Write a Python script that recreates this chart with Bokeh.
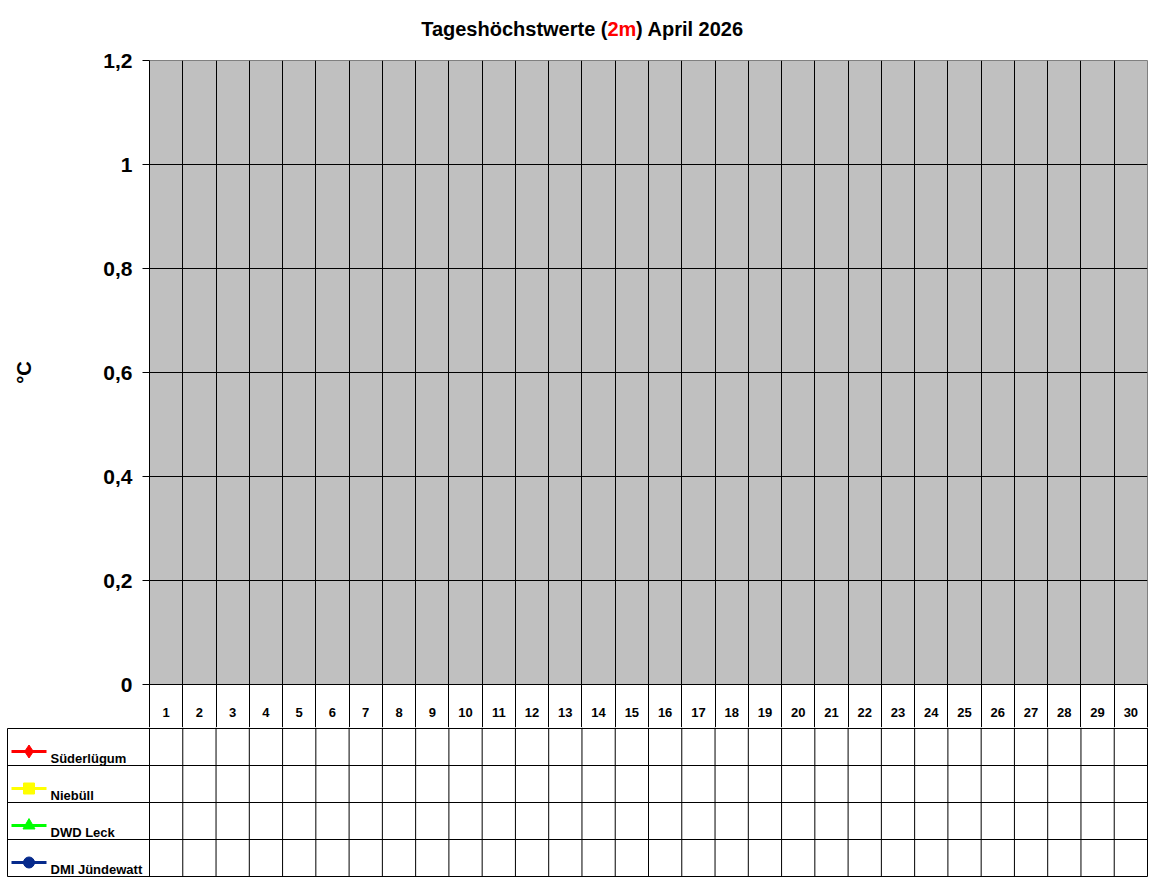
from bokeh.plotting import figure
from bokeh.models import Range1d, FixedTicker, ColumnDataSource
from bokeh.core.properties import value
from bokeh.embed import file_html
from bokeh.resources import INLINE

FONT = "Liberation Sans"

# --- data -------------------------------------------------------------
title_parts = ["Tageshöchstwerte (", "2m", ") April 2026"]
days = list(range(1, 31))
day_labels = [str(d) for d in days]
y_ticks = [0, 0.2, 0.4, 0.6, 0.8, 1.0, 1.2]
y_tick_labels = ["0", "0,2", "0,4", "0,6", "0,8", "1", "1,2"]

stations = ["Süderlügum", "Niebüll", "DWD Leck", "DMI Jündewatt"]
station_colors = ["#FF0000", "#FFFF00", "#00FF00", "#062A8C"]
station_markers = ["diamond", "square", "triangle", "circle"]

# no values reported yet for April 2026
suederluegum = [None] * 30
niebuell = [None] * 30
dwd_leck = [None] * 30
dmi_juendewatt = [None] * 30
series = [suederluegum, niebuell, dwd_leck, dmi_juendewatt]

# --- layout numbers (page pixels) -------------------------------------
W = 1150
TITLE_H = 44
FRAME_T, FRAME_B = 60, 684
FRAME_L, FRAME_R = 149, 1147
HEAD = 43                        # header row with the day numbers, under the chart
TOP_H = FRAME_B + HEAD - TITLE_H
BOT_TOP = FRAME_B + HEAD
BOT_H = 880 - BOT_TOP
upd = (FRAME_R - FRAME_L) / 30.0  # pixels per day


def px_to_day(px):
    return 0.5 + (px - FRAME_L) / upd


# --- title ------------------------------------------------------------
tt = figure(width=W, height=TITLE_H, output_backend="svg", toolbar_location=None,
            x_range=Range1d(0, W), y_range=Range1d(TITLE_H, 0), min_border=0,
            x_axis_location=None, y_axis_location=None)
tt.grid.visible = False
tt.outline_line_color = None
x2m = 607
w2m = 28.5
for txt, x, align, col in [(title_parts[0], x2m, "right", "black"),
                           (title_parts[1], x2m, "left", "red"),
                           (title_parts[2], x2m + w2m, "left", "black")]:
    tt.text(x=[x], y=[28], text=[txt], text_align=align, text_baseline="alphabetic",
            text_font=value(FONT), text_font_style="bold", text_font_size="20px",
            text_color=col)

# --- chart ------------------------------------------------------------
p = figure(width=W, height=TOP_H, output_backend="svg", toolbar_location=None,
           x_range=Range1d(0.5, 30.5), y_range=Range1d(0, 1.2),
           min_border_left=FRAME_L, min_border_right=W - FRAME_R,
           min_border_top=FRAME_T - TITLE_H, min_border_bottom=HEAD)
p.background_fill_color = "#C0C0C0"
p.border_fill_color = "white"
p.outline_line_color = "#808080"

p.xgrid.ticker = FixedTicker(ticks=[d + 0.5 for d in days[:-1]])
p.xgrid.grid_line_color = "black"
p.ygrid.ticker = FixedTicker(ticks=y_ticks[1:-1])
p.ygrid.grid_line_color = "black"

# day numbers as x axis labels, column borders as long minor ticks
xa = p.xaxis[0]
xa.ticker = FixedTicker(ticks=days, minor_ticks=[d - 0.5 for d in days] + [30.5])
xa.major_label_overrides = dict(zip(days, day_labels))
xa.major_tick_out = 0
xa.major_tick_in = 0
xa.minor_tick_out = HEAD
xa.minor_tick_in = 0
xa.minor_tick_line_color = "black"
xa.major_label_text_font = FONT
xa.major_label_text_font_style = "bold"
xa.major_label_text_font_size = "13px"
xa.major_label_text_color = "black"
xa.major_label_standoff = -20
xa.axis_line_color = "black"

ax = p.yaxis[0]
ax.ticker = FixedTicker(ticks=y_ticks)
ax.major_label_overrides = dict(zip(y_ticks, y_tick_labels))
ax.major_label_text_font = FONT
ax.major_label_text_font_style = "bold"
ax.major_label_text_font_size = "21px"
ax.major_label_text_color = "black"
ax.major_label_standoff = 10
ax.major_tick_out = 7
ax.major_tick_in = 0
ax.minor_tick_out = 0
ax.axis_line_color = "black"
ax.major_tick_line_color = "black"
ax.axis_label = "°C"
ax.axis_label_text_font = FONT
ax.axis_label_text_font_style = "bold"
ax.axis_label_text_font_size = "20px"
ax.axis_label_text_color = "black"
ax.axis_label_standoff = 65

for name, col, mk, vals in zip(stations, station_colors, station_markers, series):
    src = ColumnDataSource(dict(x=days, y=[float("nan") if v is None else v for v in vals]))
    p.line("x", "y", source=src, color=col, line_width=2)
    p.scatter("x", "y", source=src, marker=mk, color=col, size=9)

# --- data table below -------------------------------------------------
x0 = px_to_day(0)
x1 = px_to_day(W)
t = figure(width=W, height=BOT_H, output_backend="svg", toolbar_location=None,
           x_range=Range1d(x0, x1), y_range=Range1d(BOT_H, 0),
           min_border=0, x_axis_location=None, y_axis_location=None)
t.grid.visible = False
t.outline_line_color = None
t.background_fill_color = "white"

left = px_to_day(7)
row_h = 37
row_lines = [1 + row_h * i for i in range(5)]

# vertical lines of day columns
edges = [d - 0.5 for d in days] + [30.5]
t.segment(x0=edges, y0=0, x1=edges, y1=row_lines[-1], color="black", line_width=1)
# left border of the legend column
t.segment(x0=[left], y0=row_lines[0], x1=[left], y1=row_lines[-1], color="black", line_width=1)
# horizontal lines
t.segment(x0=left, y0=row_lines, x1=30.5, y1=row_lines, color="black", line_width=1)

# legend rows
row_tops = row_lines[:-1]
lx0 = px_to_day(11)
lx1 = px_to_day(46)
lxm = px_to_day(28.5)
t.segment(x0=lx0, y0=[r + 23 for r in row_tops], x1=lx1, y1=[r + 23 for r in row_tops],
          color=station_colors, line_width=3)
t.scatter(x=lxm, y=[r + 23 for r in row_tops], marker=station_markers,
          color=station_colors, size=[13, 11, 12, 11])
t.text(x=px_to_day(50), y=[r + 30 for r in row_tops], text=stations, text_align="left",
       text_baseline="middle", text_font=value(FONT), text_font_style="bold",
       text_font_size="13px", text_color="black")

# values in the cells (none yet)
for i, vals in enumerate(series):
    xs = [d for d, v in zip(days, vals) if v is not None]
    if xs:
        t.text(x=xs, y=row_tops[i] + row_h / 2,
               text=[f"{v:.1f}".replace(".", ",") for v in vals if v is not None],
               text_align="center", text_baseline="middle", text_font=value(FONT),
               text_font_size="11px")

open("out.html", "w").write(file_html([tt, p, t], INLINE))
